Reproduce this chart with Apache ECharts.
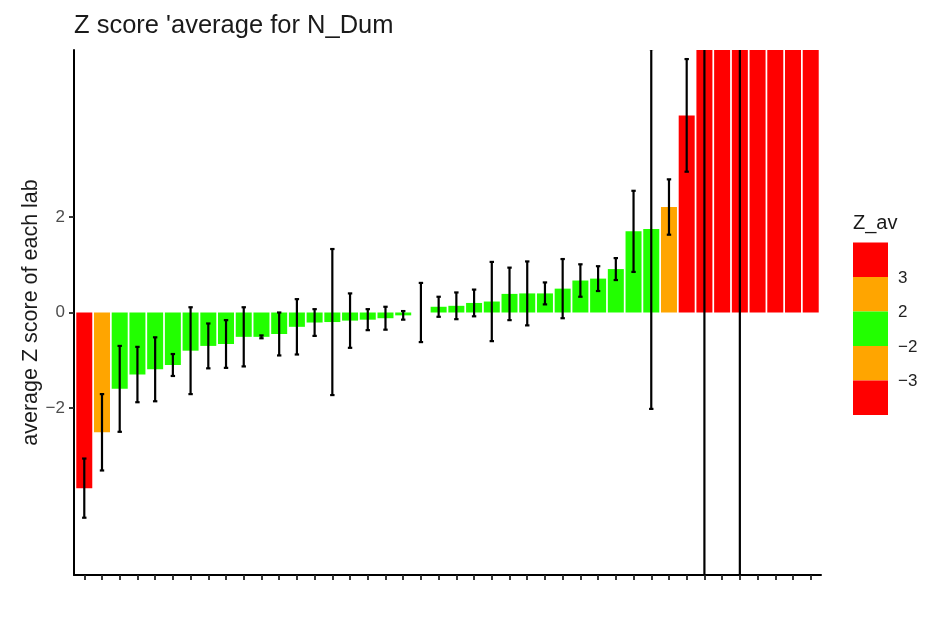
<!DOCTYPE html>
<html>
<head>
<meta charset="utf-8">
<script src="https://cdn.jsdelivr.net/npm/echarts@6/dist/echarts.min.js"></script>
<style>
  html, body { margin: 0; padding: 0; background: #fff; }
  #chart { width: 930px; height: 635px; }
</style>
</head>
<body>
<div id="chart"></div>
<script>
// Lab identifiers, ordered by their average Z score
const labs = [
  'L01','L02','L03','L04','L05','L06','L07','L08','L09','L10',
  'L11','L12','L13','L14','L15','L16','L17','L18','L19','L20',
  'L21','L22','L23','L24','L25','L26','L27','L28','L29','L30',
  'L31','L32','L33','L34','L35','L36','L37','L38','L39','L40',
  'L41','L42'
];

// Average Z score per lab
const zAverage = [
  -3.68, -2.51, -1.60, -1.30, -1.19, -1.10, -0.80, -0.70, -0.66, -0.51,
  -0.51, -0.45, -0.30, -0.21, -0.20, -0.17, -0.15, -0.12, -0.06, 0.00,
   0.12,  0.14,  0.20,  0.23,  0.39,  0.40,  0.40,  0.50,  0.67,  0.71,
   0.91,  1.70,  1.75,  2.21,  4.13,  5.90,  6.50,  7.20,  9.40, 11.20,
  14.80, 21.50
];

// Standard deviation of the Z scores per lab (error bar half-length)
const zSd = [
  0.62, 0.80, 0.90, 0.58, 0.67, 0.23, 0.91, 0.47, 0.50, 0.62,
  0.03, 0.45, 0.58, 0.28, 1.53, 0.57, 0.22, 0.24, 0.09, 0.62,
  0.21, 0.28, 0.28, 0.83, 0.55, 0.67, 0.23, 0.62, 0.34, 0.26,
  0.23, 0.85, 3.77, 0.58, 1.18, 14.0, 0.80, 15.0, 1.00, 1.50,
  2.00, 3.00
];

// Colour classes for Z_av: breaks and the colours between them (low -> high)
const zBreaks = [-3, -2, 2, 3];
const zColors = ['#ff0000', '#ffa500', '#22ff00', '#ffa500', '#ff0000'];
const legendTicks = ['3', '2', '\u22122', '\u22123'];

// Y-axis tick values
const yTicks = [-2, 0, 2];

const FONT = '"Liberation Sans", Arial, sans-serif';

function classColor(v) {
  let k = 0;
  while (k < zBreaks.length && v > zBreaks[k]) k++;
  return zColors[k];
}

// Labs sit at integer positions 0..n-1 on the x axis
const labPos = labs.map((_, i) => i);
const barData = zAverage.map((v, i) => ({ value: [i, v], itemStyle: { color: classColor(v) } }));
const errData = zAverage.map((v, i) => [i, v - zSd[i], v + zSd[i]]);

const chart = echarts.init(document.getElementById('chart'), null, { renderer: 'canvas' });

// Colour-key graphic elements (top = highest class)
const keyX = 853, keyY = 242.5, keyW = 35, keyH = 34.5;
const keyGraphics = [];
for (let k = 0; k < zColors.length; k++) {
  keyGraphics.push({
    type: 'rect',
    shape: { x: keyX, y: keyY + k * keyH, width: keyW, height: keyH },
    style: { fill: zColors[zColors.length - 1 - k] }
  });
}
legendTicks.forEach((t, k) => {
  keyGraphics.push({
    type: 'text',
    x: keyX + 45, y: keyY + (k + 1) * keyH + 1,
    style: {
      text: t, fill: '#222222', font: '17px ' + FONT,
      textVerticalAlign: 'middle', textAlign: 'left'
    }
  });
});
keyGraphics.push({
  type: 'text',
  x: keyX, y: 223,
  style: {
    text: 'Z_av', fill: '#1a1a1a', font: '20px ' + FONT,
    textVerticalAlign: 'middle', textAlign: 'left'
  }
});

const option = {
  backgroundColor: '#ffffff',
  animation: false,
  title: {
    text: "Z score 'average for N_Dum",
    left: 69,
    top: 8,
    textStyle: {
      fontFamily: FONT,
      fontSize: 25.5,
      fontWeight: 'normal',
      color: '#1a1a1a'
    }
  },
  grid: { left: 74, right: 109, top: 50, bottom: 60, containLabel: false },
  xAxis: {
    type: 'value',
    min: -0.58,
    max: labs.length - 1 + 0.58,
    axisLine: { onZero: false, lineStyle: { color: '#000', width: 2 } },
    axisTick: { show: true, customValues: labPos, length: 5, lineStyle: { color: '#222', width: 1.8 } },
    axisLabel: { show: false, customValues: labPos },
    splitLine: { show: false }
  },
  yAxis: {
    type: 'value',
    min: -5.5,
    max: 5.5,
    name: 'average Z score of each lab',
    nameLocation: 'middle',
    nameGap: 32,
    nameMoveOverlap: false,
    nameRotate: 90,
    nameTextStyle: {
      fontFamily: FONT,
      fontSize: 21.5,
      color: '#1a1a1a'
    },
    axisLine: { show: true, onZero: false, lineStyle: { color: '#000', width: 2 } },
    axisTick: { show: true, length: 5, customValues: yTicks, lineStyle: { color: '#222', width: 1.8 } },
    axisLabel: {
      customValues: yTicks,
      margin: 9,
      fontFamily: FONT,
      fontSize: 17,
      color: '#4d4d4d',
      formatter: (v) => (v < 0 ? '\u2212' + Math.abs(v) : String(v))
    },
    splitLine: { show: false }
  },
  series: [
    {
      type: 'bar',
      data: barData,
      barWidth: 16,
      clip: true,
      z: 2
    },
    {
      type: 'custom',
      data: errData,
      clip: true,
      z: 3,
      encode: { x: 0, y: [1, 2] },
      renderItem: function (params, api) {
        const i = api.value(0);
        const lo = api.coord([i, api.value(1)]);
        const hi = api.coord([i, api.value(2)]);
        const cap = 2.2;
        const style = { stroke: '#000', lineWidth: 2.2 };
        return {
          type: 'group',
          children: [
            { type: 'line', shape: { x1: lo[0], y1: lo[1], x2: hi[0], y2: hi[1] }, style },
            { type: 'line', shape: { x1: lo[0] - cap, y1: lo[1], x2: lo[0] + cap, y2: lo[1] }, style },
            { type: 'line', shape: { x1: hi[0] - cap, y1: hi[1], x2: hi[0] + cap, y2: hi[1] }, style }
          ]
        };
      }
    }
  ],
  graphic: keyGraphics
};

chart.setOption(option);
</script>
</body>
</html>
